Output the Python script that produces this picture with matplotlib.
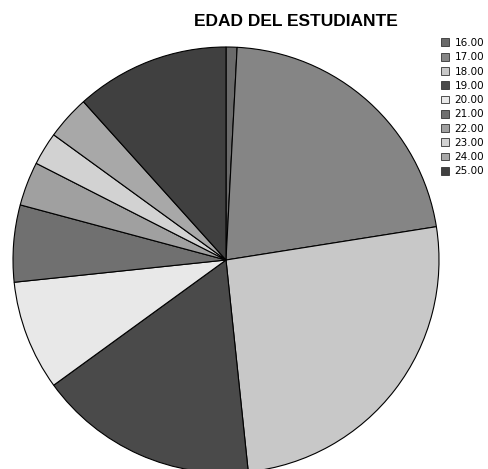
import matplotlib
matplotlib.use("Agg")
import matplotlib.pyplot as plt
from matplotlib.patches import Patch

plt.rcParams['font.family'] = ['Liberation Sans', 'DejaVu Sans']

# edad del estudiante (frecuencias)
edades = ["16.00", "17.00", "18.00", "19.00", "20.00",
          "21.00", "22.00", "23.00", "24.00", "25.00"]
conteos = [1, 26, 31, 20, 10, 7, 4, 3, 4, 14]
colores = ["#6a6a6a", "#858585", "#c8c8c8", "#4a4a4a", "#e8e8e8",
           "#707070", "#a0a0a0", "#d2d2d2", "#a8a8a8", "#404040"]

W, H = 489, 469
fig = plt.figure(figsize=(W / 100, H / 100), dpi=100)

cx, cy, r = 226, 260, 213
ax = fig.add_axes([(cx - r) / W, (H - cy - r) / H, 2 * r / W, 2 * r / H])
ax.pie(conteos, colors=colores, startangle=90, counterclock=False,
       radius=1, wedgeprops=dict(edgecolor="black", linewidth=0.8))
ax.set_xlim(-1, 1)
ax.set_ylim(-1, 1)
ax.set_aspect("equal")
ax.axis("off")

fig.text(296 / W, 1 - 22 / H, "EDAD DEL ESTUDIANTE", ha="center", va="center",
         fontsize=12.5, fontweight="bold")

handles = [Patch(facecolor=c, edgecolor="#333333", linewidth=0.6) for c in colores]
fig.legend(handles, edades, loc="upper left",
           bbox_to_anchor=(441 / W, 1 - 38 / H), frameon=False,
           prop={"family": "DejaVu Sans", "size": 7.5},
           borderpad=0, borderaxespad=0, labelspacing=0.41,
           handlelength=0.77, handleheight=0.77, handletextpad=0.55)

fig.savefig("out.png", dpi=100)
